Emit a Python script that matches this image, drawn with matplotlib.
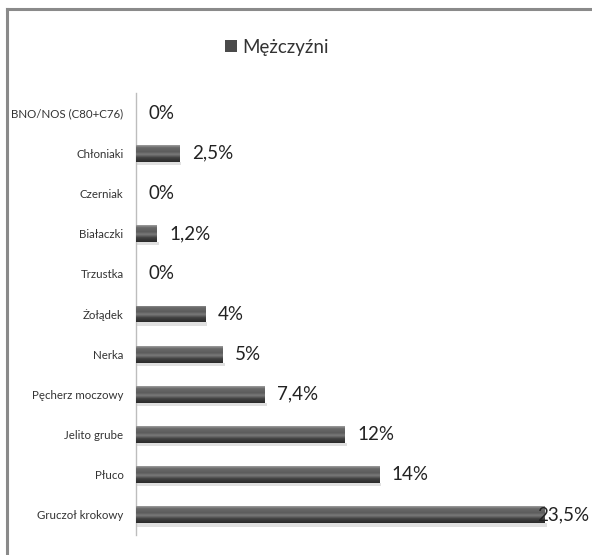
import matplotlib
matplotlib.use("Agg")
import matplotlib.pyplot as plt
from matplotlib.colors import LinearSegmentedColormap
import numpy as np

plt.rcParams['font.family'] = ['Lato', 'DejaVu Sans']

# data, top to bottom as in the picture
categories = ["BNO/NOS (C80+C76)", "Chłoniaki", "Czerniak", "Białaczki", "Trzustka",
              "Żołądek", "Nerka", "Pęcherz moczowy", "Jelito grube", "Płuco",
              "Gruczoł krokowy"]
values = [0, 2.5, 0, 1.2, 0, 4, 5, 7.4, 12, 14, 23.5]
value_labels = ["0%", "2,5%", "0%", "1,2%", "0%", "4%", "5%", "7,4%", "12%", "14%", "23,5%"]
series_name = "Mężczyźni"

fig = plt.figure(figsize=(5.92, 5.55), dpi=100)
ax = fig.add_axes([136 / 592, 1 - 535 / 555, 454 / 592, 442 / 555])

y = np.arange(len(categories))
bars = ax.barh(y, values, height=0.42, color="#4a4a4a", edgecolor="none", zorder=2)

# metallic look: vertical gradient clipped to each bar
grad_cmap = LinearSegmentedColormap.from_list(
    "bar", [(0.0, "#a0a0a0"), (0.15, "#6a6a6a"), (0.4, "#5c5c5c"),
            (0.55, "#7a7a7a"), (0.75, "#404040"), (1.0, "#2a2a2a")])
grad = np.linspace(0, 1, 256).reshape(-1, 1)
for b in bars:
    w = b.get_width()
    if w <= 0:
        continue
    y0 = b.get_y()
    h = b.get_height()
    im = ax.imshow(grad, cmap=grad_cmap, aspect="auto", origin="upper",
                   extent=(0, w, y0 + h, y0), zorder=3, interpolation="bilinear")
    im.set_clip_path(b)
    # soft shadow under the bar
    ax.barh(y0 + h + 0.04, w + 0.1, height=0.08, left=0,
            color="#e0e0e0", edgecolor="none", zorder=1)

xmax = 454 / 17.4
ax.set_xlim(0, xmax)
ax.set_ylim(len(categories) - 0.5, -0.5)

for yi, v, lab in zip(y, values, value_labels):
    x = min(v + 0.7, 23.05)
    ax.text(x, yi, lab, va="center", ha="left", fontsize=13.5,
            color="#222222", zorder=4)

ax.set_yticks(y)
ax.set_yticklabels(categories, fontsize=8.3, color="#333333")
ax.tick_params(axis="y", length=0, pad=9)
ax.set_xticks([])
for side in ["top", "right", "bottom"]:
    ax.spines[side].set_visible(False)
ax.spines["left"].set_color("#bdbdbd")
ax.spines["left"].set_linewidth(1.0)

# legend at the top
leg = fig.legend([bars[-1]], [series_name], loc="center", bbox_to_anchor=(0.468, 1 - 47 / 555),
                 frameon=False, fontsize=13.5, handlelength=0.6, handleheight=0.6,
                 handletextpad=0.3)
for t in leg.get_texts():
    t.set_color("#333333")

# outer frame (only top and left visible in the picture)
fig.add_artist(plt.Line2D([7 / 592, 1], [1 - 9 / 555, 1 - 9 / 555], color="#8a8a8a", lw=2.2))
fig.add_artist(plt.Line2D([7 / 592, 7 / 592], [0, 1 - 9 / 555], color="#8a8a8a", lw=2.2))

fig.savefig("out.png", dpi=100)
